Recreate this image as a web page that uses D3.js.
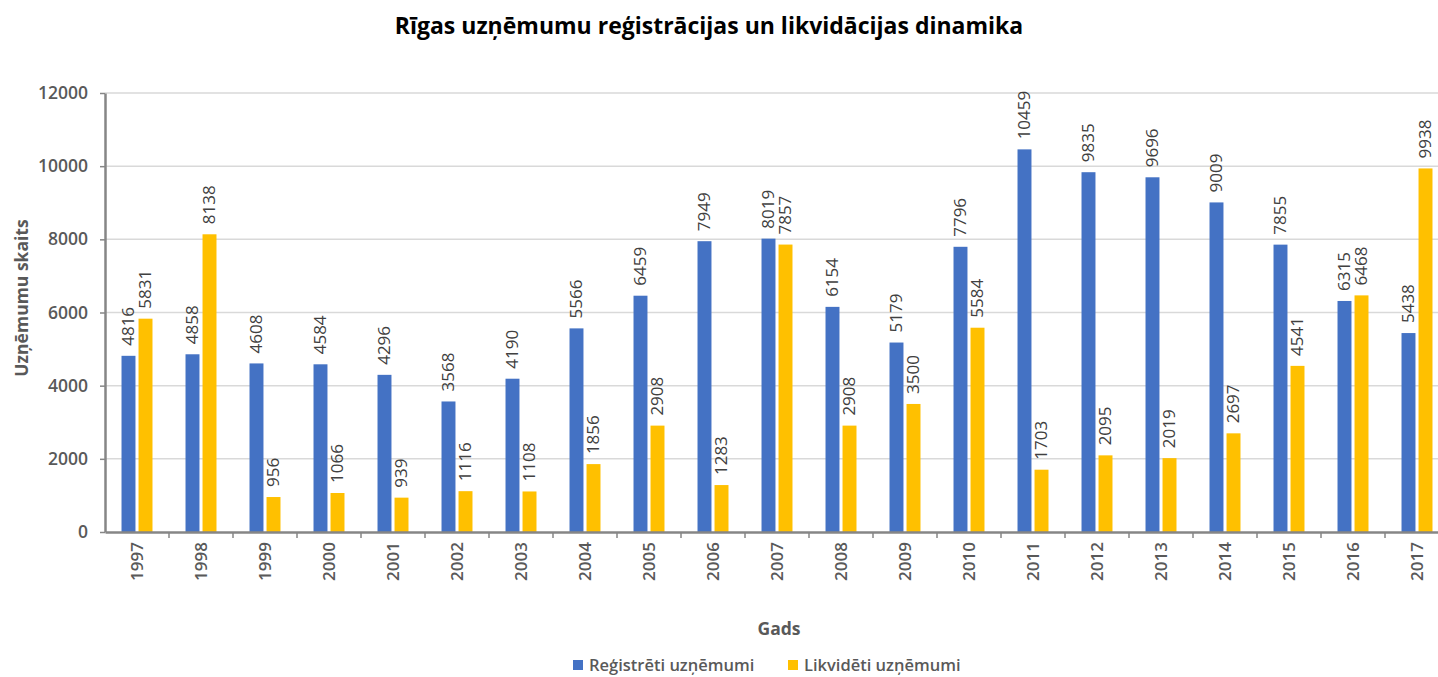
<!DOCTYPE html>
<meta charset="utf-8">
<script src="https://d3js.org/d3.v7.min.js"></script>
<style>
  body { margin: 0; background: #fff; }
  text { font-family: "Open Sans", sans-serif; }
</style>
<div id="chart"></div>
<script>

// data
var years = ["1997","1998","1999","2000","2001","2002","2003","2004","2005","2006","2007",
             "2008","2009","2010","2011","2012","2013","2014","2015","2016","2017"];
var registered = [4816,4858,4608,4584,4296,3568,4190,5566,6459,7949,8019,6154,5179,7796,10459,9835,9696,9009,7855,6315,5438];
var liquidated = [5831,8138,956,1066,939,1116,1108,1856,2908,1283,7857,2908,3500,5584,1703,2095,2019,2697,4541,6468,9938];
var seriesNames = ["Reģistrēti uzņēmumi", "Likvidēti uzņēmumi"];
var seriesColors = ["#4472C4", "#FFC000"];
var yTicks = [0,2000,4000,6000,8000,10000,12000];

var width = 1438, height = 677;
var svg = d3.select("#chart").append("svg")
    .attr("width", width)
    .attr("height", height);

// plot area (note: "top" is reserved on window)
var plotLeft = 105, plotRight = 1449, plotTop = 93, plotBottom = 532;

var x = d3.scaleBand()
    .domain(years)
    .range([plotLeft, plotRight])
    .padding(0);

var xInner = d3.scaleBand()
    .domain([0, 1])
    .range([0, x.bandwidth()])
    .paddingInner(0.18)
    .paddingOuter(0.97);

var y = d3.scaleLinear()
    .domain([0, 12000])
    .range([plotBottom, plotTop]);

// gridlines
svg.append("g")
  .selectAll("line")
  .data(yTicks.filter(function(d){ return d > 0 }))
  .enter().append("line")
    .attr("x1", plotLeft)
    .attr("x2", width)
    .attr("y1", function(d){ return y(d) })
    .attr("y2", function(d){ return y(d) })
    .attr("stroke", "#d9d9d9")
    .attr("stroke-width", 1.5);

// bars
var rows = years.map(function(yr, i){ return { year: yr, vals: [registered[i], liquidated[i]] } });

var groups = svg.append("g")
  .selectAll("g")
  .data(rows)
  .enter().append("g")
    .attr("transform", function(d){ return "translate(" + x(d.year) + ",0)" });

groups.selectAll("rect")
  .data(function(d){ return d.vals.map(function(v, k){ return { k: k, v: v } }) })
  .enter().append("rect")
    .attr("x", function(d){ return xInner(d.k) })
    .attr("width", xInner.bandwidth())
    .attr("y", function(d){ return y(d.v) })
    .attr("height", function(d){ return y(0) - y(d.v) })
    .attr("fill", function(d){ return seriesColors[d.k] });

// value labels, rotated
groups.selectAll("text")
  .data(function(d){ return d.vals.map(function(v, k){ return { k: k, v: v } }) })
  .enter().append("text")
    .attr("transform", function(d){
      var cx = xInner(d.k) + xInner.bandwidth() / 2;
      return "translate(" + cx + "," + (y(d.v) - 10) + ") rotate(-90)";
    })
    .attr("dy", "0.35em")
    .attr("text-anchor", "start")
    .style("font-size", "17px")
    .style("fill", "#404040")
    .text(function(d){ return d.v });

// y axis
var yAxis = svg.append("g")
    .attr("transform", "translate(" + plotLeft + ",0)")
    .call(d3.axisLeft(y).tickValues(yTicks).tickSize(5).tickSizeOuter(0).tickPadding(12).tickFormat(d3.format("d")));
yAxis.select(".domain").attr("stroke", "#868686").attr("stroke-width", 2.5);
yAxis.selectAll(".tick line").attr("stroke", "#868686").attr("stroke-width", 1.5);
yAxis.selectAll(".tick text")
    .style("font-size", "17.5px")
    .style("font-weight", 600)
    .style("fill", "#595959");

// x axis
var xAxis = svg.append("g")
    .attr("transform", "translate(0," + plotBottom + ")")
    .call(d3.axisBottom(x).tickSize(0).tickSizeOuter(0));
xAxis.select(".domain").attr("stroke", "#868686").attr("stroke-width", 2.5);
xAxis.selectAll(".tick text")
    .attr("transform", "rotate(-90)")
    .attr("x", -10)
    .attr("y", 0)
    .attr("dy", "0.35em")
    .attr("text-anchor", "end")
    .style("font-size", "17px")
    .style("font-weight", 600)
    .style("fill", "#595959");

// tick marks between the year groups
svg.append("g")
  .selectAll("line")
  .data(years.slice(1))
  .enter().append("line")
    .attr("x1", function(d){ return x(d) })
    .attr("x2", function(d){ return x(d) })
    .attr("y1", plotBottom)
    .attr("y2", plotBottom + 6)
    .attr("stroke", "#868686")
    .attr("stroke-width", 1.5);

// title
svg.append("text")
    .attr("x", 709)
    .attr("y", 34)
    .attr("text-anchor", "middle")
    .style("font-size", "23px")
    .style("font-weight", 700)
    .style("fill", "#000")
    .text("Rīgas uzņēmumu reģistrācijas un likvidācijas dinamika");

// axis titles
svg.append("text")
    .attr("transform", "translate(28,298) rotate(-90)")
    .attr("text-anchor", "middle")
    .style("font-size", "17.5px")
    .style("font-weight", 700)
    .style("fill", "#595959")
    .text("Uzņēmumu skaits");

svg.append("text")
    .attr("x", 779)
    .attr("y", 635)
    .attr("text-anchor", "middle")
    .style("font-size", "17.5px")
    .style("font-weight", 700)
    .style("fill", "#595959")
    .text("Gads");

// legend
var legend = svg.append("g")
  .selectAll("g")
  .data(seriesNames)
  .enter().append("g")
    .attr("transform", function(d, i){ return "translate(" + (i === 0 ? 573 : 788) + ",660)" });

legend.append("rect")
    .attr("width", 10)
    .attr("height", 10)
    .attr("fill", function(d, i){ return seriesColors[i] });

legend.append("text")
    .attr("x", 16)
    .attr("y", 11)
    .style("font-size", "16.5px")
    .style("font-weight", 600)
    .style("fill", "#595959")
    .text(function(d){ return d });

</script>
